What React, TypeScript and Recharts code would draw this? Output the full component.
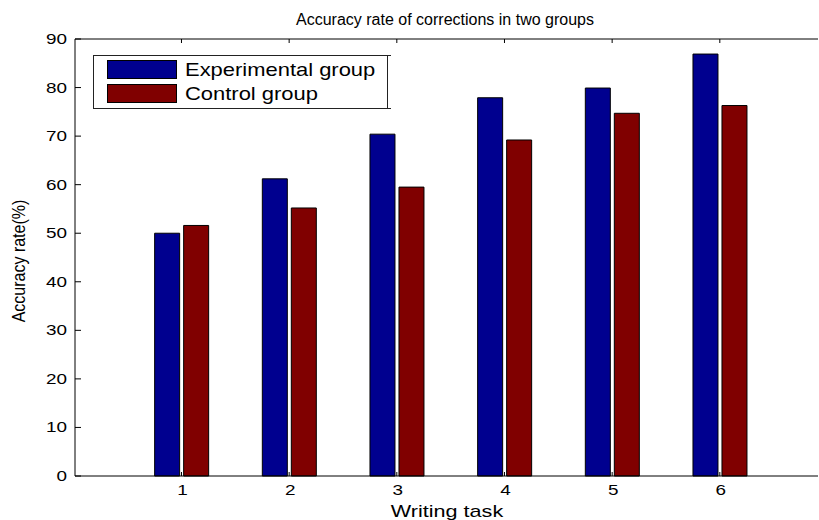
import React from 'react';
import { BarChart, Bar, XAxis, YAxis, Legend, Customized } from 'recharts';

const tasks = ['1', '2', '3', '4', '5', '6'];
const experimental = [50.0, 61.2, 70.4, 77.9, 79.9, 86.9];
const control = [51.6, 55.2, 59.5, 69.2, 74.7, 76.3];
const yTicks = [0, 10, 20, 30, 40, 50, 60, 70, 80, 90];

const titleText = 'Accuracy rate of corrections in two groups';
const xLabelText = 'Writing task';
const yLabelText = 'Accuracy rate(%)';
const expName = 'Experimental group';
const ctlName = 'Control group';
const seriesOrder = [expName, ctlName];

const data = tasks.map((t, i) => ({ task: t, exp: experimental[i], ctl: control[i] }));

const FONT = '"Liberation Sans", Arial, Helvetica, sans-serif';
const BLUE = '#00008F';
const RED = '#800000';

const YTick = (props: any) => {
  const { x, y, payload } = props;
  return (
    <g>
      <line x1={x + 8} x2={x + 14} y1={y} y2={y} stroke="#000" strokeWidth={1} />
      <text
        transform={`translate(${x},${y + 5}) scale(1.35,1)`}
        textAnchor="end"
        fontSize={14}
        fontFamily={FONT}
        fill="#000"
      >
        {payload.value}
      </text>
    </g>
  );
};

const XTick = (props: any) => {
  const { x, y, payload } = props;
  return (
    <g>
      <line x1={x} x2={x} y1={y} y2={y - 4} stroke="#000" strokeWidth={1} />
      <text
        transform={`translate(${x + 1},${y + 19}) scale(1.35,1)`}
        textAnchor="middle"
        fontSize={14}
        fontFamily={FONT}
        fill="#000"
      >
        {payload.value}
      </text>
    </g>
  );
};

const EmptyTick = () => <g />;

const Title = () => (
  <text x={445} y={25} textAnchor="middle" fontSize={16} fontFamily={FONT} fill="#000">
    {titleText}
  </text>
);

const XLabel = () => (
  <text
    transform="translate(447,517) scale(1.35,1)"
    textAnchor="middle"
    fontSize={16}
    fontFamily={FONT}
    fill="#000"
  >
    {xLabelText}
  </text>
);

const YLabel = () => (
  <text
    transform="translate(25,261) scale(1.2,1) rotate(-90)"
    textAnchor="middle"
    fontSize={16}
    fontFamily={FONT}
    fill="#000"
  >
    {yLabelText}
  </text>
);

const renderLegend = (props: any) => {
  const { payload } = props;
  const items = [...(payload || [])].sort(
    (a: any, b: any) => seriesOrder.indexOf(a.value) - seriesOrder.indexOf(b.value)
  );
  return (
    <svg width={300} height={60} style={{ display: 'block' }}>
      <rect x={0.5} y={0.5} width={294} height={53} fill="#fff" stroke="#222" strokeWidth={1} />
      <line x1={294.5} x2={298} y1={0.5} y2={0.5} stroke="#222" />
      <line x1={294.5} x2={298} y1={53.5} y2={53.5} stroke="#222" />
      {items.map((it: any, i: number) => (
        <g key={i}>
          <rect
            x={14.5}
            y={5.5 + i * 24}
            width={69}
            height={18}
            fill={it.color}
            stroke="#000"
            strokeWidth={1}
          />
          <text
            transform={`translate(92,${21 + i * 24}) scale(1.22,1)`}
            fontSize={18}
            fontFamily={FONT}
            fill="#000"
          >
            {it.value}
          </text>
        </g>
      ))}
    </svg>
  );
};

export default function App() {
  return (
    <div
      style={{
        position: 'fixed',
        left: 0,
        top: 0,
        width: 819,
        height: 520,
        overflow: 'hidden',
        background: '#fff',
      }}
    >
      <BarChart
        width={819}
        height={520}
        data={data}
        margin={{ top: 39, right: 1, bottom: 0, left: 0 }}
        barSize={25}
        barGap={4}
      >
        <XAxis
          dataKey="task"
          height={44}
          padding={{ left: 52.65, right: 44.35 }}
          tickSize={0}
          tickMargin={0}
          tickLine={false}
          axisLine={{ stroke: '#000', strokeWidth: 1 }}
          tick={<XTick />}
          interval={0}
          label={{ content: () => <XLabel /> }}
        />
        <XAxis
          xAxisId="top"
          orientation="top"
          dataKey="task"
          mirror
          padding={{ left: 52.65, right: 44.35 }}
          tickSize={4}
          tickLine={{ stroke: '#000' }}
          axisLine={{ stroke: '#000', strokeWidth: 1 }}
          tick={<EmptyTick />}
          interval={0}
        />
        <YAxis
          width={75}
          domain={[0, 90]}
          ticks={yTicks}
          type="number"
          tickSize={0}
          tickMargin={8}
          tickLine={false}
          axisLine={{ stroke: '#000', strokeWidth: 1 }}
          tick={<YTick />}
          interval={0}
          label={{ content: () => <YLabel /> }}
        />
        <YAxis
          yAxisId="right"
          orientation="right"
          mirror
          domain={[0, 90]}
          ticks={yTicks}
          type="number"
          tickSize={3}
          tickLine={{ stroke: '#000' }}
          axisLine={false}
          tick={<EmptyTick />}
          interval={0}
        />
        <Bar dataKey="exp" name={expName} fill={BLUE} stroke="#000" strokeWidth={1} isAnimationActive={false} />
        <Bar dataKey="ctl" name={ctlName} fill={RED} stroke="#000" strokeWidth={1} isAnimationActive={false} />
        <Legend
          layout="vertical"
          align="center"
          verticalAlign="middle"
          wrapperStyle={{ position: 'absolute', left: 93, top: 55, width: 300, height: 60 }}
          content={renderLegend}
        />
        <Customized component={<Title />} />
      </BarChart>
    </div>
  );
}
